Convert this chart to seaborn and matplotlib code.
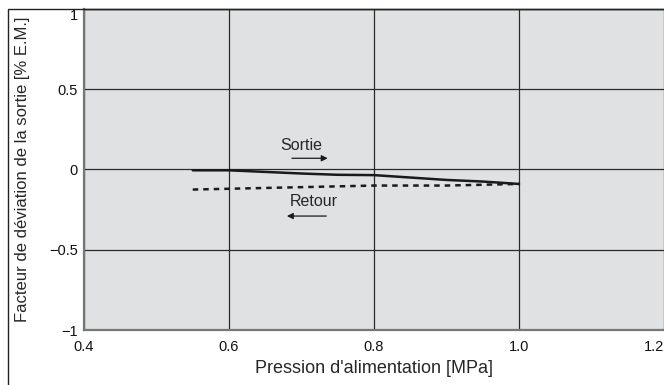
import matplotlib.pyplot as plt
import matplotlib.patches as mpatches
import seaborn as sns
import pandas as pd

# Valeurs
pression_sortie = [0.55, 0.60, 0.65, 0.70, 0.75, 0.80, 0.85, 0.90, 0.95, 1.00]
deviation_sortie = [-0.005, -0.005, -0.015, -0.025, -0.033, -0.035, -0.05, -0.065, -0.075, -0.09]
pression_retour = [0.55, 0.60, 0.70, 0.80, 0.90, 1.00]
deviation_retour = [-0.125, -0.12, -0.11, -0.10, -0.10, -0.09]

x_ticks = [0.4, 0.6, 0.8, 1.0, 1.2]
x_labels = ["0.4", "0.6", "0.8", "1.0", "1.2"]
y_ticks = [-1, -0.5, 0, 0.5, 1]
y_labels = ["\u22121", "\u22120.5", "0", "0.5", "1"]

df = pd.concat([
    pd.DataFrame({"Pression": pression_sortie, "Deviation": deviation_sortie, "Sens": "Sortie"}),
    pd.DataFrame({"Pression": pression_retour, "Deviation": deviation_retour, "Sens": "Retour"}),
])

sns.set_style("white")
plt.rcParams["font.family"] = ["Liberation Sans", "DejaVu Sans"]

fig = plt.figure(figsize=(6.64, 3.85), dpi=100)
ax = fig.add_axes([84 / 664, 1 - 330 / 385, 1 - 84 / 664, (330 - 9) / 385])
ax.set_facecolor("#e0e1e3")

sns.lineplot(data=df, x="Pression", y="Deviation", hue="Sens", style="Sens",
             palette={"Sortie": "#1a1a1a", "Retour": "#1a1a1a"},
             dashes={"Sortie": "", "Retour": (2.2, 2.0)}, linewidth=1.8,
             legend=False, ax=ax)

ax.set_xlim(0.4, 1.2)
ax.set_ylim(-1, 1)
ax.set_xticks(x_ticks)
ax.set_xticklabels(x_labels, fontsize=10.5, color="#111111")
ax.set_yticks(y_ticks)
ax.set_yticklabels(y_labels, fontsize=10.5, color="#111111")
ax.get_xticklabels()[-1].set_ha("right")
# le "1" du haut est descendu dans le cadre dans l'original
ax.get_yticklabels()[-1].set_va("top")
ax.tick_params(axis="x", length=0, pad=7)
ax.tick_params(axis="y", length=0, pad=4.5)
ax.grid(True, color="#2a2a2a", linewidth=0.9)

for side in ["left", "bottom"]:
    ax.spines[side].set_color("#777777")
    ax.spines[side].set_linewidth(1.6)
ax.spines["top"].set_color("#222222")
ax.spines["top"].set_linewidth(1.0)
ax.spines["right"].set_visible(False)

ax.set_xlabel("Pression d'alimentation [MPa]", fontsize=13)
ax.xaxis.set_label_coords(0.5, -0.095)
ax.set_ylabel("Facteur de déviation de la sortie [% E.M.]", fontsize=12)
ax.yaxis.set_label_coords(-0.093, 0.5)

# Flèches de sens
ax.text(0.699, 0.15, "Sortie", fontsize=11.5, ha="center", va="center")
ax.annotate("", xy=(0.740, 0.07), xytext=(0.683, 0.07),
            arrowprops=dict(arrowstyle="-|>", color="#1a1a1a", lw=0.9, mutation_scale=9))
ax.text(0.717, -0.20, "Retour", fontsize=11.5, ha="center", va="center")
ax.annotate("", xy=(0.676, -0.29), xytext=(0.738, -0.29),
            arrowprops=dict(arrowstyle="-|>", color="#1a1a1a", lw=0.9, mutation_scale=9))

# Cadre extérieur
fig.add_artist(mpatches.Rectangle((8 / 664, -0.01), 1.0, 1 - 9 / 385 + 0.01,
                                  transform=fig.transFigure, fill=False,
                                  edgecolor="#222222", linewidth=1.0))

fig.savefig("out.png", dpi=100)
